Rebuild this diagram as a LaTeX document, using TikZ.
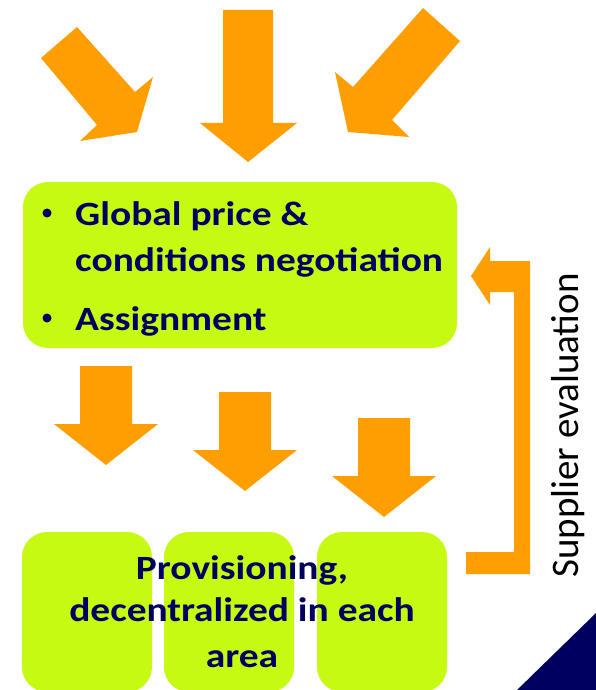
\documentclass[tikz,border=0pt]{standalone}
\usepackage{fontspec}
\setmainfont{Carlito}
\usepackage{tikz}

\definecolor{arroworange}{RGB}{255,158,0}
\definecolor{boxlime}{RGB}{198,250,18}
\definecolor{textnavy}{RGB}{0,0,96}

\begin{document}
\begin{tikzpicture}[x=1pt, y=-1pt,
    box/.style={fill=boxlime, rounded corners=25pt, inner sep=0pt},
    bigarrow/.style={fill=arroworange},
    bulletdot/.style={circle, fill=textnavy, inner sep=0pt, minimum size=9pt},
    boxtext/.style={font=\fontsize{34}{40}\selectfont\bfseries, text=textnavy, inner sep=0pt, xscale=1.16}]

\useasboundingbox (0,0) rectangle (596,690);
\clip (0,0) rectangle (596,690);

% Top arrows
\fill[bigarrow] (77,27) -- (135,92) -- (153,77) -- (137,132) -- (80,141) -- (97,125) -- (41,58) -- cycle;
\fill[bigarrow] (223,10) -- (273,10) -- (273,123) -- (297,123) -- (248,162) -- (200,123) -- (223,123) -- cycle;
\fill[bigarrow] (423,8) -- (460,41) -- (392,120) -- (409,137) -- (348,132) -- (335,72) -- (353,87) -- cycle;

% Global box
\node[box, minimum width=434pt, minimum height=166pt] (global) at (240,265) {};
\node[bulletdot] (bul1) at (47,213) {};
\node[boxtext, anchor=base west] (item1a) at (75,225) {Global price \&};
\node[boxtext, anchor=base west] (item1b) at (75,271) {conditions negotiation};
\node[bulletdot] (bul2) at (47,318) {};
\node[boxtext, anchor=base west] (item2) at (75,330) {Assignment};

% Middle arrows
\foreach \x/\y in {80/366, 219/392, 358/418}
  \fill[bigarrow] (\x,\y) -- ++(52,0) -- ++(0,58) -- ++(26,0) -- ++(-52,41)
    -- ++(-52,-41) -- ++(26,0) -- cycle;

% Provisioning boxes
\node[box, minimum width=130pt, minimum height=160pt] (area1) at (87,612) {};
\node[box, minimum width=130pt, minimum height=160pt] (area2) at (229,612) {};
\node[box, minimum width=130pt, minimum height=160pt] (area3) at (382,612) {};
\node[boxtext, anchor=base] (prov1) at (242,579) {Provisioning,};
\node[boxtext, anchor=base] (prov2) at (242,621) {decentralized in each};
\node[boxtext, anchor=base] (prov3) at (242,667) {area};

% Feedback arrow
\fill[bigarrow] (471,276) -- (490,247) -- (490,261) -- (530,261) -- (530,574)
  -- (466,574) -- (466,552) -- (514,552) -- (514,292) -- (490,292) -- (490,305) -- cycle;
\node[rotate=90, anchor=base west, font=\fontsize{39}{45}\selectfont, inner sep=0pt] (supeval) at (578,578) {Supplier evaluation};

% Corner
\fill[textnavy] (517,690) -- (596,613) -- (596,690) -- cycle;

\end{tikzpicture}
\end{document}
